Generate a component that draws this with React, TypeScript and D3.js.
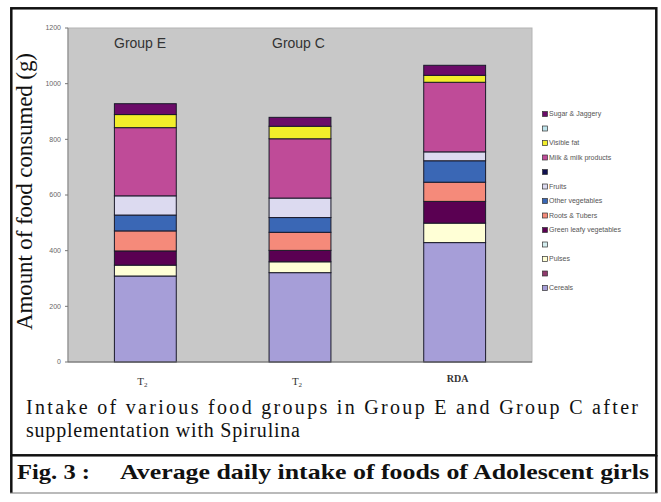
import React from "react";
import * as d3 from "d3";

// Food groups, bottom-to-top stacking order (blank names are empty series)
const seriesNames = [
  "Cereals", "", "Pulses", "", "Green leafy vegetables", "Roots & Tubers",
  "Other vegetables", "Fruits", "", "Milk & milk products", "Visible fat", "", "Sugar & Jaggery",
];
const seriesColors = [
  "#a69ed8", "#8f3a6c", "#ffffd6", "#d4eef0", "#5a0052", "#f58a7a",
  "#3a67b5", "#dcdaf0", "#101050", "#bf4b98", "#f2ee2a", "#bfe4ec", "#6b0b68",
];
const categories = ["T2a", "T2b", "RDA"];
const categoryLabels = ["T", "T", "RDA"];
// grams per food group for each bar
const groupE = [309, 0, 39, 0, 51, 72, 57, 69, 0, 245, 47, 0, 39];
const groupC = [321, 0, 39, 0, 41, 65, 53, 70, 0, 213, 45, 0, 32];
const rda = [429, 0, 70, 0, 78, 69, 77, 32, 0, 250, 25, 0, 36];
const yTicks = [0, 200, 400, 600, 800, 1000, 1200];
const groupTitles = ["Group E", "Group C"];

const W = 661;
const H = 502;
const plot = { left: 68, right: 532, top: 28, bottom: 362 };

export default function App() {
  const x = d3
    .scaleBand<string>()
    .domain(categories)
    .range([plot.left, plot.right])
    .paddingInner(0.6)
    .paddingOuter(0.3);
  const y = d3.scaleLinear().domain([0, 1200]).range([plot.bottom, plot.top]);

  const table = categories.map((c, i) => {
    const vals = [groupE, groupC, rda][i];
    const row: Record<string, number | string> = { cat: c };
    seriesNames.forEach((_, k) => (row["s" + k] = vals[k]));
    return row;
  });
  const keys = seriesNames.map((_, k) => "s" + k);
  const stacked = d3.stack<any>().keys(keys)(table as any);

  const serif = "'Liberation Serif', 'Times New Roman', serif";
  const sans = "'Liberation Sans', Arial, sans-serif";

  return (
    <svg
      width={W}
      height={H}
      style={{ position: "absolute", left: 0, top: 0, background: "#fff" }}
    >
      {/* plot area */}
      <rect
        x={plot.left}
        y={plot.top}
        width={plot.right - plot.left}
        height={plot.bottom - plot.top}
        fill="#c8c8c8"
        stroke="#b4b4b4"
        strokeWidth={1}
      />
      {/* stacked bars */}
      {stacked.map((layer, k) =>
        layer.map((d, i) => {
          const h = y(d[0]) - y(d[1]);
          if (h <= 0) return null;
          return (
            <rect
              key={k + "-" + i}
              x={x(categories[i])!}
              y={y(d[1])}
              width={x.bandwidth()}
              height={h}
              fill={seriesColors[k]}
              stroke="#1a1a2a"
              strokeWidth={1}
            />
          );
        })
      )}
      {/* axes */}
      <line x1={plot.left} x2={plot.left} y1={plot.top} y2={plot.bottom} stroke="#888" />
      <line x1={plot.left} x2={plot.right} y1={plot.bottom} y2={plot.bottom} stroke="#666" />
      {yTicks.map((t) => (
        <g key={t}>
          <line x1={plot.left - 3} x2={plot.left} y1={y(t)} y2={y(t)} stroke="#777" />
          <text
            x={61}
            y={y(t)}
            dy="0.35em"
            textAnchor="end"
            fontFamily={sans}
            fontSize={7}
            fill="#666"
          >
            {t}
          </text>
        </g>
      ))}
      {/* category labels */}
      {categories.map((c, i) => {
        const cx = x(c)! + x.bandwidth() / 2;
        if (i < 2) {
          return (
            <text key={c} x={cx - 3} y={385} textAnchor="middle" fontFamily={serif} fontSize={11} fill="#333">
              {categoryLabels[i]}
              <tspan fontSize={7} dy={2}>2</tspan>
            </text>
          );
        }
        return (
          <text key={c} x={cx + 3} y={382} textAnchor="middle" fontFamily={serif} fontSize={10} fontWeight="bold" fill="#333">
            {categoryLabels[i]}
          </text>
        );
      })}
      {/* group titles */}
      {groupTitles.map((g, i) => (
        <text
          key={g}
          x={[114, 272][i]}
          y={48}
          fontFamily={sans}
          fontSize={14}
          fill="#333"
        >
          {g}
        </text>
      ))}
      {/* y axis title */}
      <text
        transform="translate(31.5,330) rotate(-90)"
        fontFamily={serif}
        fontSize={23}
        fill="#111"
        textLength={277}
        lengthAdjust="spacing"
      >
        Amount of food consumed (g)
      </text>
      {/* legend */}
      {seriesNames
        .map((n, k) => ({ n, k }))
        .reverse()
        .map(({ n, k }, j) => {
          const ly = 114 + j * 14.5;
          return (
            <g key={k}>
              <rect x={542.5} y={ly - 2.5} width={5} height={5} fill={seriesColors[k]} stroke="#333" strokeWidth={0.7} />
              <text x={549} y={ly} dy="0.35em" fontFamily={sans} fontSize={7} fill="#555">
                {n}
              </text>
            </g>
          );
        })}
      {/* caption */}
      <text x={26} y={414} fontFamily={serif} fontSize={20} fill="#111" textLength={612} lengthAdjust="spacing">
        Intake of various food groups in Group E and Group C after
      </text>
      <text x={26} y={437} fontFamily={serif} fontSize={20} fill="#111" textLength={274} lengthAdjust="spacing">
        supplementation with Spirulina
      </text>
      <text
        x={17}
        y={479}
        fontFamily={serif}
        fontSize={21}
        fontWeight="bold"
        fill="#111"
        textLength={73}
        lengthAdjust="spacingAndGlyphs"
      >
        Fig. 3 :
      </text>
      <text
        x={120}
        y={479}
        fontFamily={serif}
        fontSize={21}
        fontWeight="bold"
        fill="#111"
        textLength={529}
        lengthAdjust="spacingAndGlyphs"
      >
        Average daily intake of foods of Adolescent girls
      </text>
      {/* frames */}
      <rect x={11.3} y={8.3} width={645} height={447} fill="none" stroke="#111" strokeWidth={2.5} />
      <line x1={11.3} x2={11.3} y1={455} y2={493} stroke="#111" strokeWidth={2.5} />
      <line x1={656.3} x2={656.3} y1={455} y2={493} stroke="#111" strokeWidth={2.5} />
      <line x1={10} x2={657.5} y1={493} y2={493} stroke="#777" strokeWidth={1.2} />
    </svg>
  );
}
